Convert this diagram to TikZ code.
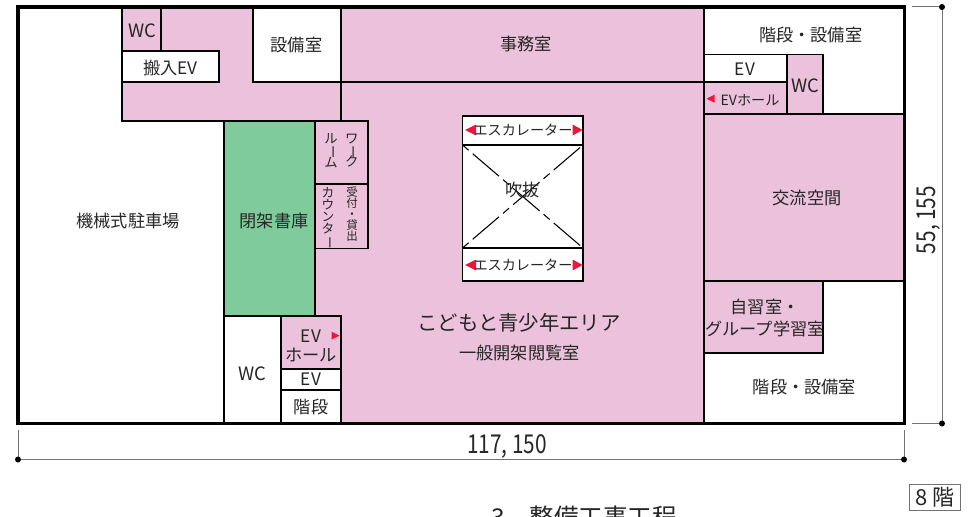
\documentclass[tikz,border=0pt]{standalone}
\usepackage{fontspec}
\usepackage{graphicx}
\setmainfont{Noto Sans CJK JP}
\definecolor{roompink}{HTML}{EBC1DC}
\definecolor{stackgreen}{HTML}{7FCB9C}
\definecolor{tipred}{HTML}{F0143C}
\newcommand{\fs}[2]{\fontsize{#1}{#2}\selectfont}
\newcommand{\nobi}{\smash{\rotatebox[origin=c]{-90}{ー}}}
\tikzset{
pinkroom/.style={draw=black,fill=roompink,line width=.8pt},
whiteroom/.style={draw=black,fill=white,line width=.8pt},
lbl/.style={inner sep=0,text=black!85,align=center,font=\fs{12.9}{13}},
wclbl/.style={lbl,font=\fs{13.8}{14}},
smalllbl/.style={lbl,font=\fs{10.6}{10.6}},
dimlbl/.style={lbl,font=\fs{19.5}{20}},
dimline/.style={draw=black!55,line width=.75pt},
}
\begin{document}
\begin{tikzpicture}[x=.75pt,y=-.75pt]
\useasboundingbox (0,0) rectangle (968,517);
\clip (0,0) rectangle (968,517);
\draw[pinkroom] (122,7) rectangle (341,121);
\draw[pinkroom] (341,7) -- (704,7) -- (704,423) -- (341,423) -- (341,316) -- (315,316) -- (315,121) -- (341,121) -- cycle;
\draw[pinkroom] (341,7) rectangle (704,82);
\draw[pinkroom] (122,7) rectangle (161,51);
\draw[whiteroom] (122,51) rectangle (219,82);
\draw[whiteroom] (253,7) rectangle (341,82);
\draw[draw=black,fill=stackgreen,line width=.8pt] (224,121) rectangle (315,316);
\draw[pinkroom] (315,121) rectangle (368,184);
\draw[pinkroom] (315,184) rectangle (368,248.5);
\draw[whiteroom] (224,316) rectangle (281,423);
\draw[pinkroom] (281,316) rectangle (341,369);
\draw[whiteroom] (281,369) rectangle (341,390);
\draw[whiteroom] (281,390) rectangle (341,423);
\draw[whiteroom] (462.5,116) rectangle (583,281);
\draw[whiteroom] (462.5,145) rectangle (583,248);
\draw[line width=.8pt,dash pattern=on 26pt off 4pt on 6pt off 4pt,dash phase=30pt] (462.5,145) -- (583,248);
\draw[line width=.8pt,dash pattern=on 26pt off 4pt on 6pt off 4pt,dash phase=30pt] (462.5,248) -- (583,145);
\draw[whiteroom] (704,7) rectangle (904,114);
\draw[whiteroom] (704,54.5) rectangle (787,82);
\draw[pinkroom] (704,82) rectangle (787,114);
\draw[pinkroom] (787,54.5) rectangle (823,114);
\draw[pinkroom] (704,114) rectangle (904,281);
\draw[pinkroom] (704,281) rectangle (823,353);
\draw[line width=2.3pt] (18,7) rectangle (904.5,423.5);
\foreach \y in {130,265} {
\fill[tipred] (465,\y) -- (476,\y-5.5) -- (476,\y+5.5) -- cycle;
\fill[tipred] (582.5,\y) -- (572.5,\y-5.5) -- (572.5,\y+5.5) -- cycle;
}
\fill[tipred] (706.5,98.7) -- (714.5,94.7) -- (714.5,102.7) -- cycle;
\fill[tipred] (339.5,335.7) -- (331.5,331.7) -- (331.5,339.7) -- cycle;
\node[wclbl] (wctop) at (142,30.5) {WC};
\node[lbl] (loadev) at (170.5,67.5) {搬入EV};
\node[lbl] (plantleft) at (296.5,45) {設備室};
\node[lbl] (office) at (526,43.5) {事務室};
\node[lbl] (parking) at (128,221) {機械式駐車場};
\node[lbl] (closedstack) at (274,221) {閉架書庫};
\node[lbl,font=\fs{10}{8.8}] (workroomb) at (331,150.5) {ル\\\nobi\\ム};
\node[lbl,font=\fs{10}{8.8}] (workrooma) at (351.7,150.5) {ワ\\\nobi\\ク};
\node[lbl,font=\fs{9.5}{9}] (counterb) at (328,217) {カ\\ウ\\ン\\タ\\\nobi};
\node[lbl,font=\fs{8.6}{8.25}] (countera) at (352,214.5) {受\\付\\・\\貸\\出};
\node[smalllbl] (escup) at (523,130.5) {エスカレーター};
\node[lbl] (void) at (522.5,190) {吹抜};
\node[smalllbl] (escdown) at (523,265.5) {エスカレーター};
\node[lbl,font=\fs{15.3}{16}] (kidsarea) at (519,323) {こどもと青少年エリア};
\node[lbl] (reading) at (519.5,352.7) {一般開架閲覧室};
\node[wclbl] (wclow) at (252.5,373.5) {WC};
\node[lbl,font=\fs{12.9}{13.8}] (evhalllow) at (311,346) {EV\\ホール};
\node[lbl] (evlow) at (311,379.5) {EV};
\node[lbl] (stairslow) at (311,407) {階段};
\node[lbl] (stairstop) at (810.7,35) {階段・設備室};
\node[lbl] (evtop) at (745,69) {EV};
\node[smalllbl] (evhalltop) at (750,100) {EVホール};
\node[wclbl] (wcright) at (805,85.7) {WC};
\node[lbl] (exchange) at (807,198) {交流空間};
\node[lbl,font=\fs{12.9}{16.5}] (study) at (765,317.5) {自習室・\\グループ学習室};
\node[lbl] (stairslowr) at (804.5,386.7) {階段・設備室};
\draw[dimline] (18,430) -- (18,459.5) -- (904,459.5) -- (904,430);
\draw[dimline] (912,7) -- (942,7) -- (942,423.5) -- (912,423.5);
\foreach \p in {(18,459.5),(904,459.5),(942,7),(942,423.5)}
\fill[black] \p circle[radius=3];
\node[dimlbl] (widthdim) at (507,446.5) {\scalebox{.8}[1]{117, 150}};
\node[dimlbl,rotate=90] (depthdim) at (929,220) {\scalebox{.8}[1]{55, 155}};
\node[draw=black!55,line width=.75pt,minimum width=38pt,minimum height=19.5pt,inner sep=0,text=black!85,font=\fs{16.5}{17}] (floor) at (935.3,497.5) {8 階};
\node[anchor=base west,inner sep=0,text=black!85,font=\fs{18.4}{19}] (nextsec) at (491,526) {3.\hspace{.73em}整備工事工程};
\end{tikzpicture}
\end{document}
